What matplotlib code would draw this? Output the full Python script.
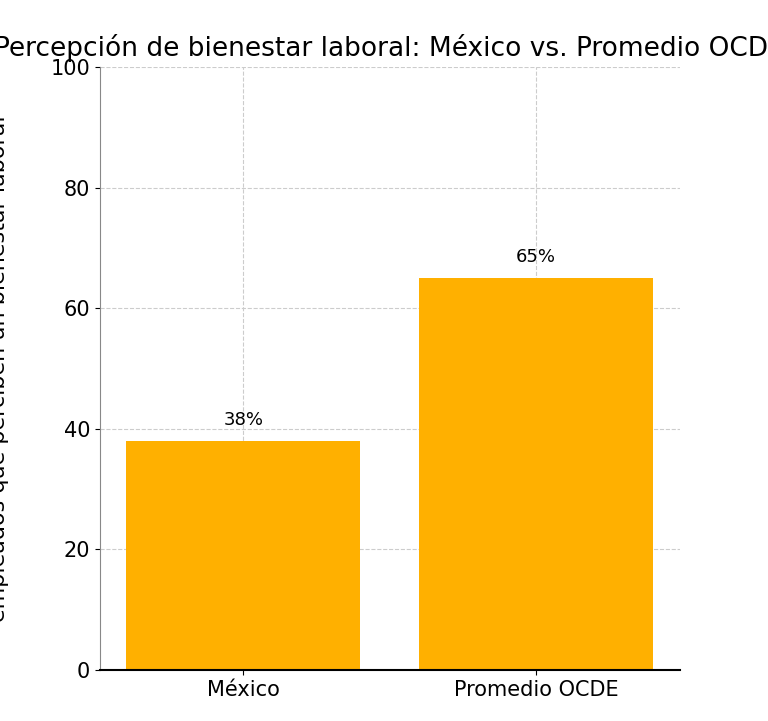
import matplotlib
matplotlib.use("Agg")
import matplotlib.pyplot as plt

categories = ["México", "Promedio OCDE"]
values = [38, 65]
labels = ["38%", "65%"]

fig = plt.figure(figsize=(7.68, 7.21), dpi=100)
ax = fig.add_axes([0.13, 0.071, 0.755, 0.836])
bars = ax.bar(categories, values, width=0.8, color="#FFB000", zorder=2)
for b, l in zip(bars, labels):
    ax.text(b.get_x() + b.get_width() / 2, b.get_height() + 2, l,
            ha="center", va="bottom", fontsize=13)
ax.set_ylim(0, 100)
ax.set_yticks([0, 20, 40, 60, 80, 100])
ax.grid(True, linestyle="--", color="#cccccc", zorder=0)
for s in ["top", "right"]:
    ax.spines[s].set_visible(False)
ax.spines["left"].set_color("#888888")
ax.spines["bottom"].set_linewidth(1.5)
ax.tick_params(labelsize=15)
ax.set_title("Percepción de bienestar laboral: México vs. Promedio OCDE",
             fontsize=19, pad=8)
ax.set_ylabel("empleados que perciben un bienestar laboral", fontsize=16,
              labelpad=30)
fig.savefig("out.png", dpi=100)
